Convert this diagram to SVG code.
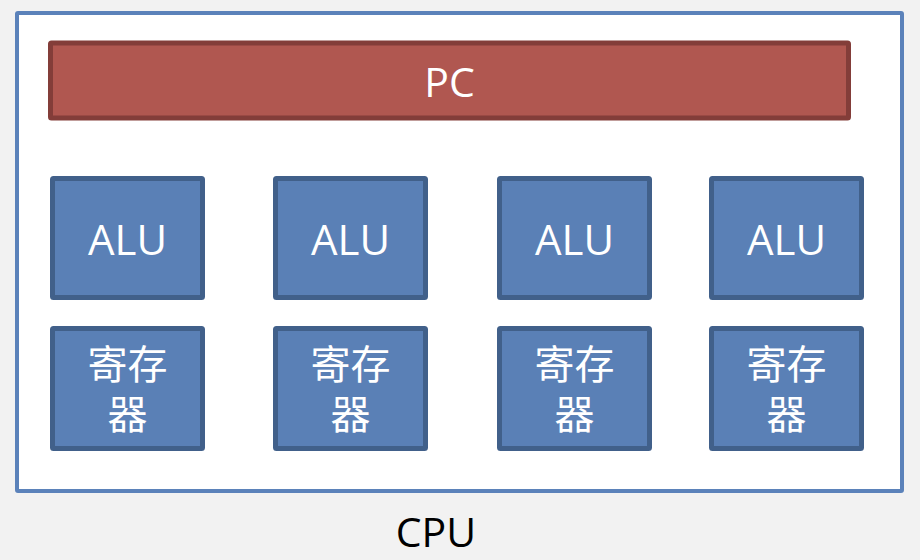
<svg xmlns="http://www.w3.org/2000/svg" width="920" height="560" viewBox="0 0 920 560">
<style>
.t{font-family:"Open Sans","Liberation Sans",sans-serif;fill:#fff;text-anchor:middle}
.cj{font-family:"Noto Sans CJK SC",sans-serif;fill:#fff;text-anchor:middle;font-size:40px}
.u{fill:#5A80B6;stroke:#41608A;stroke-width:5}
</style>
<rect width="920" height="560" fill="#F2F2F2"/>
<g id="cpu">
<rect x="17" y="13" width="885" height="478" fill="#fff" stroke="#5B82BA" stroke-width="4" rx="1"/>
<text x="436" y="547" font-family="'Open Sans','Liberation Sans',sans-serif" font-size="41" fill="#000" text-anchor="middle">CPU</text>
</g>
<g id="pc">
<rect x="50.5" y="43" width="798" height="75" fill="#B05750" stroke="#833D39" stroke-width="5" rx="1"/>
<text class="t" x="449.5" y="97" font-size="41">PC</text>
</g>
<g id="alu1"><rect class="u" x="52.5" y="178.5" width="150" height="119" rx="1"/><text class="t" x="127.5" y="255" font-size="42">ALU</text></g>
<g id="alu2"><rect class="u" x="275.5" y="178.5" width="150" height="119" rx="1"/><text class="t" x="350.5" y="255" font-size="42">ALU</text></g>
<g id="alu3"><rect class="u" x="499.5" y="178.5" width="150" height="119" rx="1"/><text class="t" x="574.5" y="255" font-size="42">ALU</text></g>
<g id="alu4"><rect class="u" x="711.5" y="178.5" width="150" height="119" rx="1"/><text class="t" x="786.5" y="255" font-size="42">ALU</text></g>
<g id="reg1"><rect class="u" x="52.5" y="328.5" width="150" height="120" rx="1"/><text class="cj" x="127.5" y="379"><tspan x="127.5">寄存</tspan><tspan x="127.5" dy="50">器</tspan></text></g>
<g id="reg2"><rect class="u" x="275.5" y="328.5" width="150" height="120" rx="1"/><text class="cj" x="350.5" y="379"><tspan x="350.5">寄存</tspan><tspan x="350.5" dy="50">器</tspan></text></g>
<g id="reg3"><rect class="u" x="499.5" y="328.5" width="150" height="120" rx="1"/><text class="cj" x="574.5" y="379"><tspan x="574.5">寄存</tspan><tspan x="574.5" dy="50">器</tspan></text></g>
<g id="reg4"><rect class="u" x="711.5" y="328.5" width="150" height="120" rx="1"/><text class="cj" x="786.5" y="379"><tspan x="786.5">寄存</tspan><tspan x="786.5" dy="50">器</tspan></text></g>
<g id="connectors"></g>
</svg>
